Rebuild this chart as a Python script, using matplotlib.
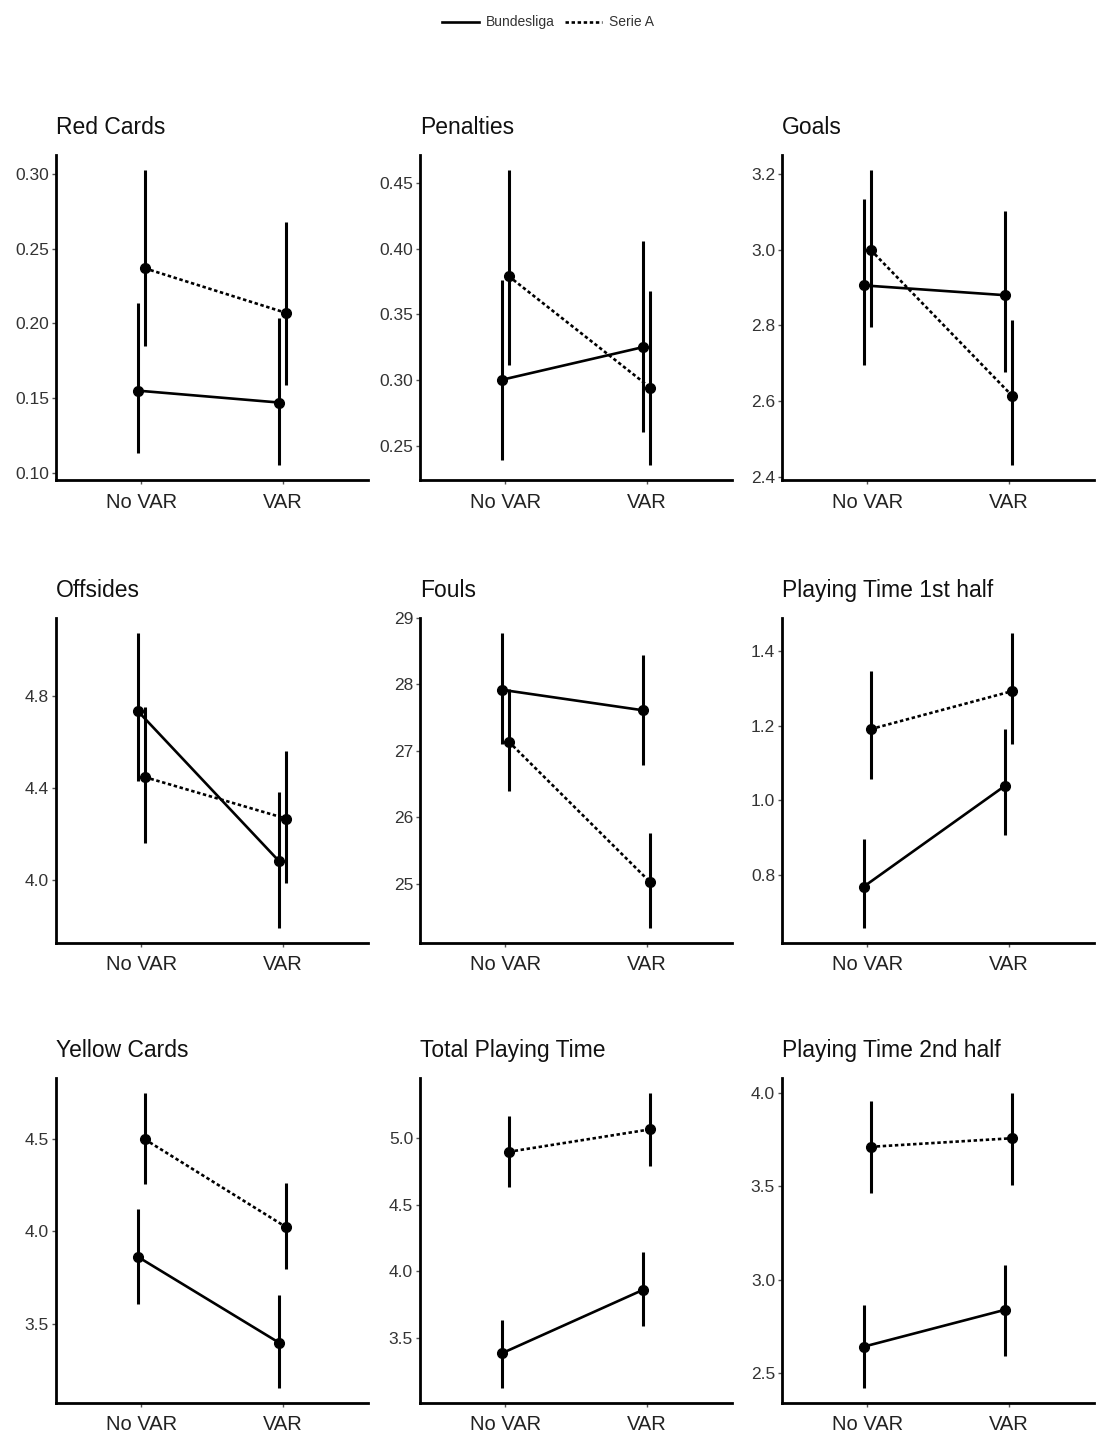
import matplotlib
matplotlib.use('Agg')
import matplotlib.pyplot as plt
from matplotlib.lines import Line2D

plt.rcParams['font.family'] = ['Liberation Sans', 'DejaVu Sans']

conditions = ['No VAR', 'VAR']
leagues = ['Bundesliga', 'Serie A']

titles = ['Red Cards', 'Penalties', 'Goals',
          'Offsides', 'Fouls', 'Playing Time 1st half',
          'Yellow Cards', 'Total Playing Time', 'Playing Time 2nd half']

# point estimates (No VAR, VAR)
bund_mean = [[0.155, 0.147], [0.300, 0.325], [2.906, 2.880],
             [4.735, 4.080], [27.92, 27.61], [0.769, 1.040],
             [3.863, 3.395], [3.388, 3.864], [2.642, 2.840]]
serie_mean = [[0.237, 0.207], [0.379, 0.294], [3.000, 2.613],
              [4.447, 4.266], [27.14, 25.02], [1.191, 1.293],
              [4.500, 4.022], [4.894, 5.062], [3.711, 3.757]]

# confidence intervals (No VAR, VAR)
bund_lo = [[0.113, 0.105], [0.239, 0.260], [2.696, 2.676],
           [4.430, 3.790], [27.11, 26.78], [0.658, 0.907],
           [3.608, 3.149], [3.128, 3.591], [2.420, 2.590]]
bund_hi = [[0.214, 0.204], [0.376, 0.406], [3.134, 3.103],
           [5.074, 4.380], [28.77, 28.45], [0.898, 1.191],
           [4.121, 3.653], [3.636, 4.149], [2.867, 3.080]]
serie_lo = [[0.185, 0.159], [0.311, 0.235], [2.797, 2.430],
            [4.160, 3.986], [26.39, 24.33], [1.058, 1.151],
            [4.256, 3.797], [4.628, 4.790], [3.464, 3.509]]
serie_hi = [[0.303, 0.268], [0.460, 0.368], [3.212, 2.815],
            [4.750, 4.562], [27.93, 25.77], [1.347, 1.449],
            [4.752, 4.265], [5.161, 5.335], [3.956, 4.000]]

ytick_labels = [['0.10', '0.15', '0.20', '0.25', '0.30'],
                ['0.25', '0.30', '0.35', '0.40', '0.45'],
                ['2.4', '2.6', '2.8', '3.0', '3.2'],
                ['4.0', '4.4', '4.8'],
                ['25', '26', '27', '28', '29'],
                ['0.8', '1.0', '1.2', '1.4'],
                ['3.5', '4.0', '4.5'],
                ['3.5', '4.0', '4.5', '5.0'],
                ['2.5', '3.0', '3.5', '4.0']]

W, H = 1096, 1441
fig = plt.figure(figsize=(W / 100, H / 100), dpi=100)

col_left = [56, 420, 782]
row_top = [155, 618, 1078]
ax_w, ax_h = 312, 325

dodge = 0.025
styles = {'Bundesliga': '-', 'Serie A': (0, (1.3, 1.0))}

for i, title in enumerate(titles):
    r, c = divmod(i, 3)
    ax = fig.add_axes([col_left[c] / W, 1 - (row_top[r] + ax_h) / H, ax_w / W, ax_h / H])

    for league, mean, lo, hi, off in [('Bundesliga', bund_mean[i], bund_lo[i], bund_hi[i], -dodge),
                                      ('Serie A', serie_mean[i], serie_lo[i], serie_hi[i], dodge)]:
        xs = [1 + off, 2 + off]
        ax.vlines(xs, lo, hi, color='black', lw=2.2)
        ax.plot(xs, mean, color='black', lw=1.9, linestyle=styles[league])
        ax.plot(xs, mean, 'o', color='black', markersize=7)

    allv = bund_lo[i] + bund_hi[i] + serie_lo[i] + serie_hi[i]
    lo_v, hi_v = min(allv), max(allv)
    pad = 0.05 * (hi_v - lo_v)
    ax.set_ylim(lo_v - pad, hi_v + pad)
    ax.set_xlim(0.4, 2.6)

    ax.set_xticks([1, 2])
    ax.set_xticklabels(conditions, fontsize=14.5, color='#222222')
    ticks = [float(t) for t in ytick_labels[i]]
    ax.set_yticks(ticks)
    ax.set_yticklabels(ytick_labels[i], fontsize=12.5, color='#333333')
    ax.tick_params(axis='y', length=3, width=1, color='#555555', pad=2)
    ax.tick_params(axis='x', length=3, width=1, color='#555555', pad=6)

    for side in ['top', 'right']:
        ax.spines[side].set_visible(False)
    for side in ['left', 'bottom']:
        ax.spines[side].set_linewidth(2.0)
        ax.spines[side].set_color('black')

    ax.set_title(title, loc='left', fontsize=16.5, pad=15, color='#111111')

handles = [Line2D([], [], color='black', lw=1.9, linestyle=styles[l]) for l in leagues]
fig.legend(handles, leagues, loc='upper center', bbox_to_anchor=(0.5, 0.998), ncol=2,
           frameon=False, fontsize=10, handlelength=2.6, columnspacing=0.8, handletextpad=0.5,
           labelcolor='#333333')

fig.savefig('out.png', dpi=100, facecolor='white')
